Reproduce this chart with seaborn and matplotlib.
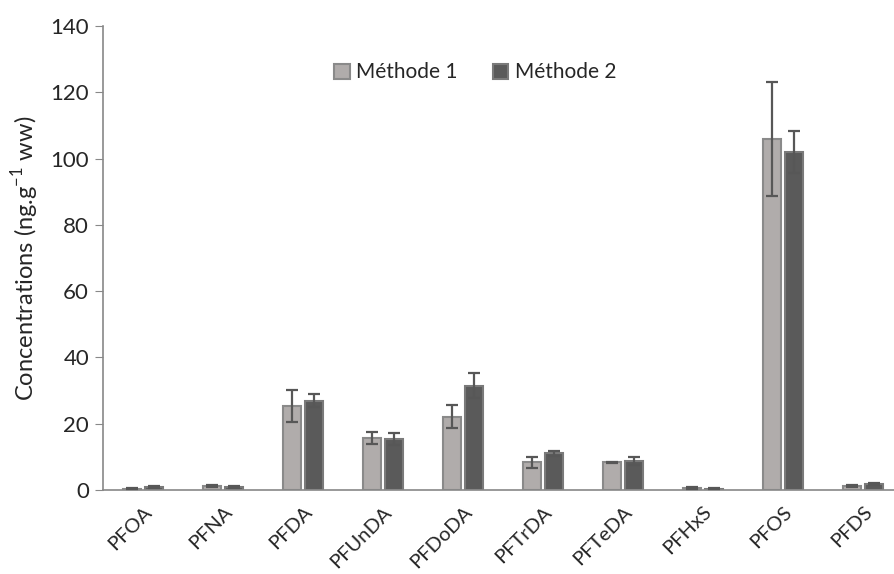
import numpy as np
import pandas as pd
import matplotlib
matplotlib.use("Agg")
import matplotlib.pyplot as plt
import seaborn as sns

# Données
composes = ['PFOA', 'PFNA', 'PFDA', 'PFUnDA', 'PFDoDA', 'PFTrDA', 'PFTeDA', 'PFHxS', 'PFOS', 'PFDS']
methode1 = [0.4, 1.2, 25.4, 15.6, 22.1, 8.4, 8.4, 0.6, 105.9, 1.3]
methode2 = [0.8, 1.0, 27.0, 15.3, 31.5, 11.1, 8.8, 0.4, 101.9, 1.8]
err1 = [0.2, 0.3, 4.8, 1.8, 3.5, 1.7, 0.2, 0.2, 17.3, 0.3]
err2 = [0.3, 0.3, 1.9, 1.8, 3.7, 0.7, 1.3, 0.1, 6.4, 0.3]
series = ['Méthode 1', 'Méthode 2']

sns.set_style("white")
plt.rcParams['font.family'] = ['Lato', 'DejaVu Sans']
plt.rcParams['mathtext.fontset'] = 'custom'
plt.rcParams['mathtext.rm'] = 'Lato'

df = pd.DataFrame({
    'compose': composes * 2,
    'methode': [series[0]] * len(composes) + [series[1]] * len(composes),
    'valeur': methode1 + methode2,
    'erreur': err1 + err2,
})

fig = plt.figure(figsize=(8.94, 5.74), dpi=100)
ax = fig.add_axes([0.1152, 0.1463, 0.8949, 0.8084])

couleurs = {'Méthode 1': '#b0acab', 'Méthode 2': '#5a5a5a'}
bords = {'Méthode 1': '#8a8a8a', 'Méthode 2': '#7a7a7a'}
sns.barplot(data=df, x='compose', y='valeur', hue='methode', palette=couleurs,
            errorbar=None, width=0.55, gap=0.16, ax=ax, saturation=1)

# bordures + barres d'erreur
for cont, m, e in zip(ax.containers, series, [err1, err2]):
    xs = []
    for p in cont:
        p.set_edgecolor(bords[m])
        p.set_linewidth(1.5)
        xs.append(p.get_x() + p.get_width() / 2)
    vals = methode1 if m == series[0] else methode2
    ax.errorbar(xs, vals, yerr=e, fmt='none', ecolor='#575757', elinewidth=1.6,
                capsize=4.3, capthick=1.6, zorder=5)

ax.set_xlim(-0.5, len(composes) - 0.5)
ax.set_ylim(0, 140)
ax.set_yticks(range(0, 141, 20))
ax.set_xlabel('')
ax.set_ylabel('Concentrations (ng.g$^{\\mathregular{-1}}$ ww)', fontsize=17, labelpad=7)
ax.tick_params(axis='y', labelsize=16, left=True, length=6, color='#888888', direction='out', pad=4)
ax.tick_params(axis='x', labelsize=14.5, bottom=False, pad=6)
plt.setp(ax.get_xticklabels(), rotation=45, ha='right', rotation_mode='anchor')

for s in ['top', 'right']:
    ax.spines[s].set_visible(False)
for s in ['left', 'bottom']:
    ax.spines[s].set_color('#888888')
    ax.spines[s].set_linewidth(1.2)

leg = ax.legend(loc='center', bbox_to_anchor=(0.465, 0.90), ncol=2, frameon=False,
                fontsize=15, handlelength=0.75, handleheight=0.75, handletextpad=0.3,
                columnspacing=1.7)
for h, m in zip(leg.legend_handles, series):
    h.set_edgecolor(bords[m])
    h.set_linewidth(1.5)

fig.savefig('out.png', dpi=100)
